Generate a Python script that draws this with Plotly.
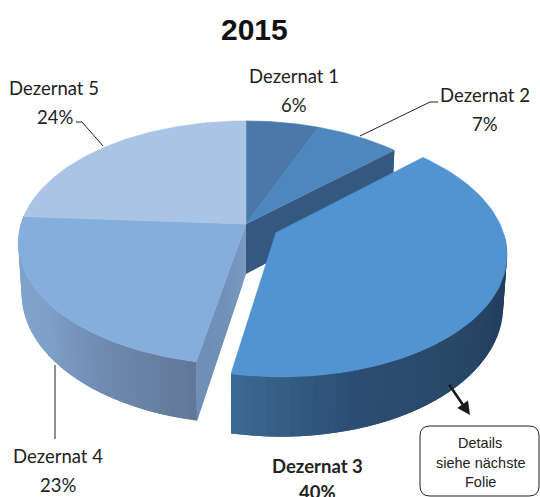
import numpy as np
import plotly.graph_objects as go

# ---- data ----
title = "2015"
categories = ["Dezernat 1", "Dezernat 2", "Dezernat 3", "Dezernat 4", "Dezernat 5"]
shares = [6, 7, 40, 23, 24]
pulled = [0, 0, 0.15, 0, 0]
top_colors = ["#4A78A8", "#4E87BD", "#5194D1", "#85AEDC", "#A9C4E5"]
note_lines = ["Details", "siehe nächste", "Folie"]

# ---- pie projection (tilted disc with perspective) ----
CX, CY, R, K, P, DEPTH, BASE = 246, 224, 225, 119, 0.154, 50, 0.985


def project(u, v, down=False):
    s = 1 / (1 + P * v)
    x = R * u * s
    y = -K * v * s
    if down:
        return CX + x * BASE, CY + y + DEPTH * s
    return CX + x, CY + y


def disc(pct, off=(0, 0)):
    a = np.asarray(pct) * 2 * np.pi / 100
    return np.sin(a) + off[0], np.cos(a) + off[1]


def hex_rgb(c):
    return [int(c[i:i + 2], 16) for i in (1, 3, 5)]


def blend(stops, t):
    n = len(stops) - 1
    i = min(int(t * n), n - 1)
    f = t * n - i
    a, b = hex_rgb(stops[i]), hex_rgb(stops[i + 1])
    return "rgb(%d,%d,%d)" % tuple(round(a[k] + (b[k] - a[k]) * f) for k in range(3))


fig = go.Figure()


def poly(xs, ys, color, lw=0.6):
    fig.add_trace(go.Scatter(x=list(xs), y=list(ys), mode="lines", fill="toself",
                             fillcolor=color, line=dict(color=color, width=lw),
                             hoverinfo="skip", showlegend=False))


def top(i, start, end, off=(0, 0)):
    pcts = np.linspace(start, end, 80)
    u, v = disc(pcts, off)
    u = np.r_[off[0], u, off[0]]
    v = np.r_[off[1], v, off[1]]
    x, y = project(u, v)
    poly(x, y, top_colors[i])


def outer_wall(start, end, stops, off=(0, 0), n=40):
    edges = np.linspace(start, end, n + 1)
    for j in range(n):
        p = np.linspace(edges[j], edges[min(j + 2, n)], 5)
        u, v = disc(p, off)
        xt, yt = project(u, v)
        xb, yb = project(u, v, True)
        poly(np.r_[xt, xb[::-1], xt[0]], np.r_[yt, yb[::-1], yt[0]],
             blend(stops, j / (n - 1)), lw=0)


def radial_wall(pct, stops, n=14):
    for j in range(n):
        r = np.array([j / n, min((j + 2) / n, 1)])
        u, v = disc(pct)
        xt, yt = project(u * r, v * r)
        xb, yb = project(u * r, v * r, True)
        poly(np.r_[xt, xb[::-1], xt[0]], np.r_[yt, yb[::-1], yt[0]],
             blend(stops, j / (n - 1)), lw=0)


cum = np.cumsum([0] + shares)
mid3 = (cum[2] + cum[3]) / 2
off3 = (disc(mid3)[0] * pulled[2], disc(mid3)[1] * pulled[2])

# back-to-front painting
radial_wall(cum[2], ["#34587F", "#34587F"])
radial_wall(cum[3], ["#7B9AC2", "#7090B8", "#6F8FB8"])
outer_wall(cum[3], cum[4], ["#62789A", "#6E89AE", "#7E9FC8", "#7FA4CE", "#7B9FCA"])
for i in (0, 1, 3, 4):
    top(i, cum[i], cum[i + 1])
outer_wall(cum[2] + 12, cum[3], ["#1B3B5A", "#23415F", "#294968", "#2C4E73", "#3B6892"], off3)
top(2, cum[2], cum[3], off3)

# ---- text ----
LATO = "Lato, 'Noto Sans', sans-serif"
ARIAL = "'Liberation Sans', Arial, sans-serif"


def text(x, y, s, size=18.5, family=LATO, color="#222222"):
    fig.add_annotation(x=x, y=y, text=s, showarrow=False, xref="x", yref="y",
                       font=dict(family=family, size=size, color=color),
                       xanchor="center", yanchor="middle")


labels_at = [(294, 76, 294, 105), (485, 95, 485, 124), (317, 466, 317, 492),
             (58, 456, 58, 485), (54, 88, 55, 117)]
for i, (lx, ly, vx, vy) in enumerate(labels_at):
    bold = categories[i] == "Dezernat 3"
    name = f"<b>{categories[i]}</b>" if bold else categories[i]
    val = f"<b>{shares[i]}%</b>" if bold else f"{shares[i]}%"
    text(lx, ly, name)
    text(vx, vy, val)

text(254, 29, f"<b>{title}</b>", size=30, family=ARIAL, color="#111111")

# leader lines
for path in ("M360,136 L430,102 L438,102", "M103,146 L82,122 L76,122", "M55,365 L55,439"):
    fig.add_shape(type="path", path=path, xref="x", yref="y",
                  line=dict(color="#222222", width=1))

# call-out box
fig.add_shape(type="path", xref="x", yref="y", fillcolor="white",
              line=dict(color="#222222", width=1),
              path="M430,426 L529,426 Q539,426 539,436 L539,486 Q539,496 529,496 "
                   "L430,496 Q420,496 420,486 L420,436 Q420,426 430,426 Z")
for line, y in zip(note_lines, (443, 463, 482)):
    text(480, y, line, size=14.5, family=ARIAL)

# arrow
fig.add_annotation(x=470, y=415, ax=448, ay=383, xref="x", yref="y", axref="x", ayref="y",
                   text="", showarrow=True, arrowhead=2, arrowsize=1, arrowwidth=2.6,
                   arrowcolor="#1a1a1a")

fig.update_layout(
    width=540, height=497, autosize=False,
    margin=dict(l=0, r=0, t=0, b=0),
    paper_bgcolor="white", plot_bgcolor="white", showlegend=False,
    xaxis=dict(range=[0, 540], visible=False, fixedrange=True),
    yaxis=dict(range=[497, 0], visible=False, fixedrange=True),
)
fig.write_html("out.html", config={"displayModeBar": False},
               post_script="document.body.style.margin='0';document.body.style.overflow='hidden';")
